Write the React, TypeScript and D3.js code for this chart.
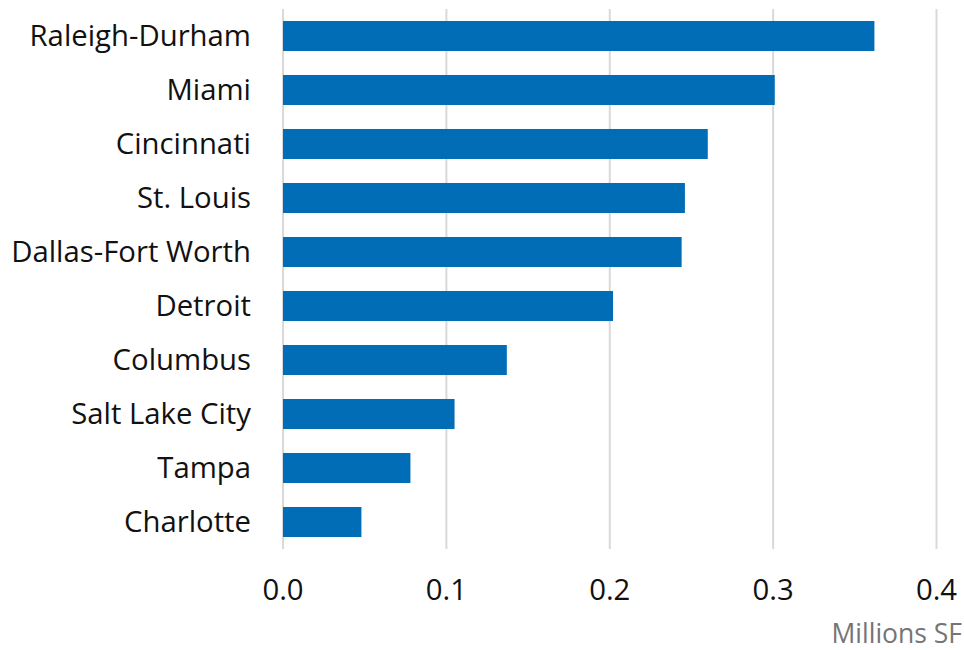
import React from "react";
import * as d3 from "d3";

const categories = [
  "Raleigh-Durham",
  "Miami",
  "Cincinnati",
  "St. Louis",
  "Dallas-Fort Worth",
  "Detroit",
  "Columbus",
  "Salt Lake City",
  "Tampa",
  "Charlotte",
];
const values = [0.362, 0.301, 0.260, 0.246, 0.244, 0.202, 0.137, 0.105, 0.078, 0.048];
const ticks = [0, 0.1, 0.2, 0.3, 0.4];
const unitLabel = "Millions SF";

const W = 964;
const H = 650;
const FONT = "'Open Sans', sans-serif";

export default function App() {
  const x = d3.scaleLinear().domain([0, 0.4]).range([283, 936.5]);
  const y = d3.scaleBand().domain(categories).range([9, 549]).paddingInner(0.444).paddingOuter(0.222);
  return (
    <svg width={W} height={H} style={{ position: "absolute", left: 0, top: 0 }} fontFamily={FONT}>
      {ticks.map((t) => (
        <line key={"g" + t} x1={x(t)} x2={x(t)} y1={9} y2={549} stroke="#d9d9d9" strokeWidth={2} />
      ))}
      {categories.map((c, i) => (
        <rect key={c} x={x(0)} y={y(c)} width={x(values[i]) - x(0)} height={y.bandwidth()} fill="#006db6" />
      ))}
      {categories.map((c) => (
        <text key={"l" + c} x={251} y={(y(c) as number) + y.bandwidth() / 2} dy="0.34em" textAnchor="end" fontSize={29.3} fill="#111">
          {c}
        </text>
      ))}
      {ticks.map((t) => (
        <text key={"t" + t} x={x(t)} y={600} textAnchor="middle" fontSize={29.3} fill="#111">
          {d3.format(".1f")(t)}
        </text>
      ))}
      <text x={962} y={643} textAnchor="end" fontSize={26.5} fill="#757575">
        {unitLabel}
      </text>
    </svg>
  );
}
